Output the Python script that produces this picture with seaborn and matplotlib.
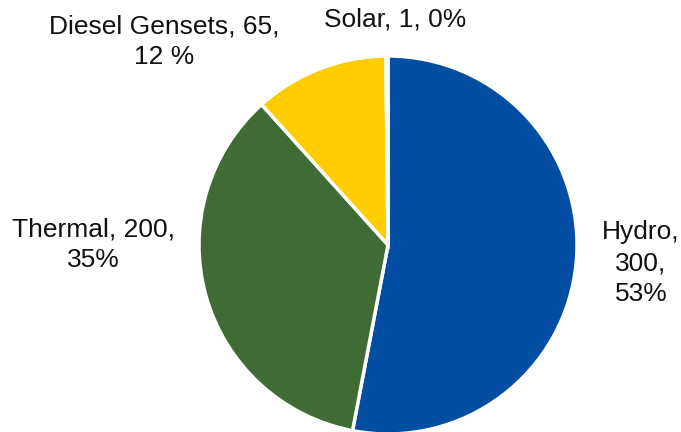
import matplotlib
matplotlib.use("Agg")
import matplotlib.pyplot as plt
import seaborn as sns

sns.set_theme(style="white")
plt.rcParams['font.family'] = ['Liberation Sans', 'DejaVu Sans']

categories = ["Hydro", "Thermal", "Diesel Gensets", "Solar"]
values = [300, 200, 65, 1]
labels = ["Hydro,\n300,\n53%", "Thermal, 200,\n35%", "Diesel Gensets, 65,\n12 %", "Solar, 1, 0%"]
colors = ["#034EA2", "#3F6C35", "#FFCC00", "#FFCC00"]

W, H = 681, 432
fig = plt.figure(figsize=(W / 100, H / 100), dpi=100)
cx, cy, r = 388, 245, 189
ax = fig.add_axes([(cx - r) / W, (H - cy - r) / H, 2 * r / W, 2 * r / H])

ax.pie(values, colors=colors, startangle=90, counterclock=False,
       wedgeprops=dict(edgecolor="white", linewidth=2.5))
ax.set_xlim(-1, 1)
ax.set_ylim(-1, 1)
ax.set_aspect("equal")
ax.axis("off")

# label positions (pixels in the figure)
label_pos = [(641, 263), (93, 245), (164, 42), (395, 19)]
for lab, (px, py) in zip(labels, label_pos):
    fig.text(px / W, 1 - py / H, lab, ha="center", va="center",
             fontsize=19, color="#111111", linespacing=1.36)

fig.savefig("out.png", dpi=100)
